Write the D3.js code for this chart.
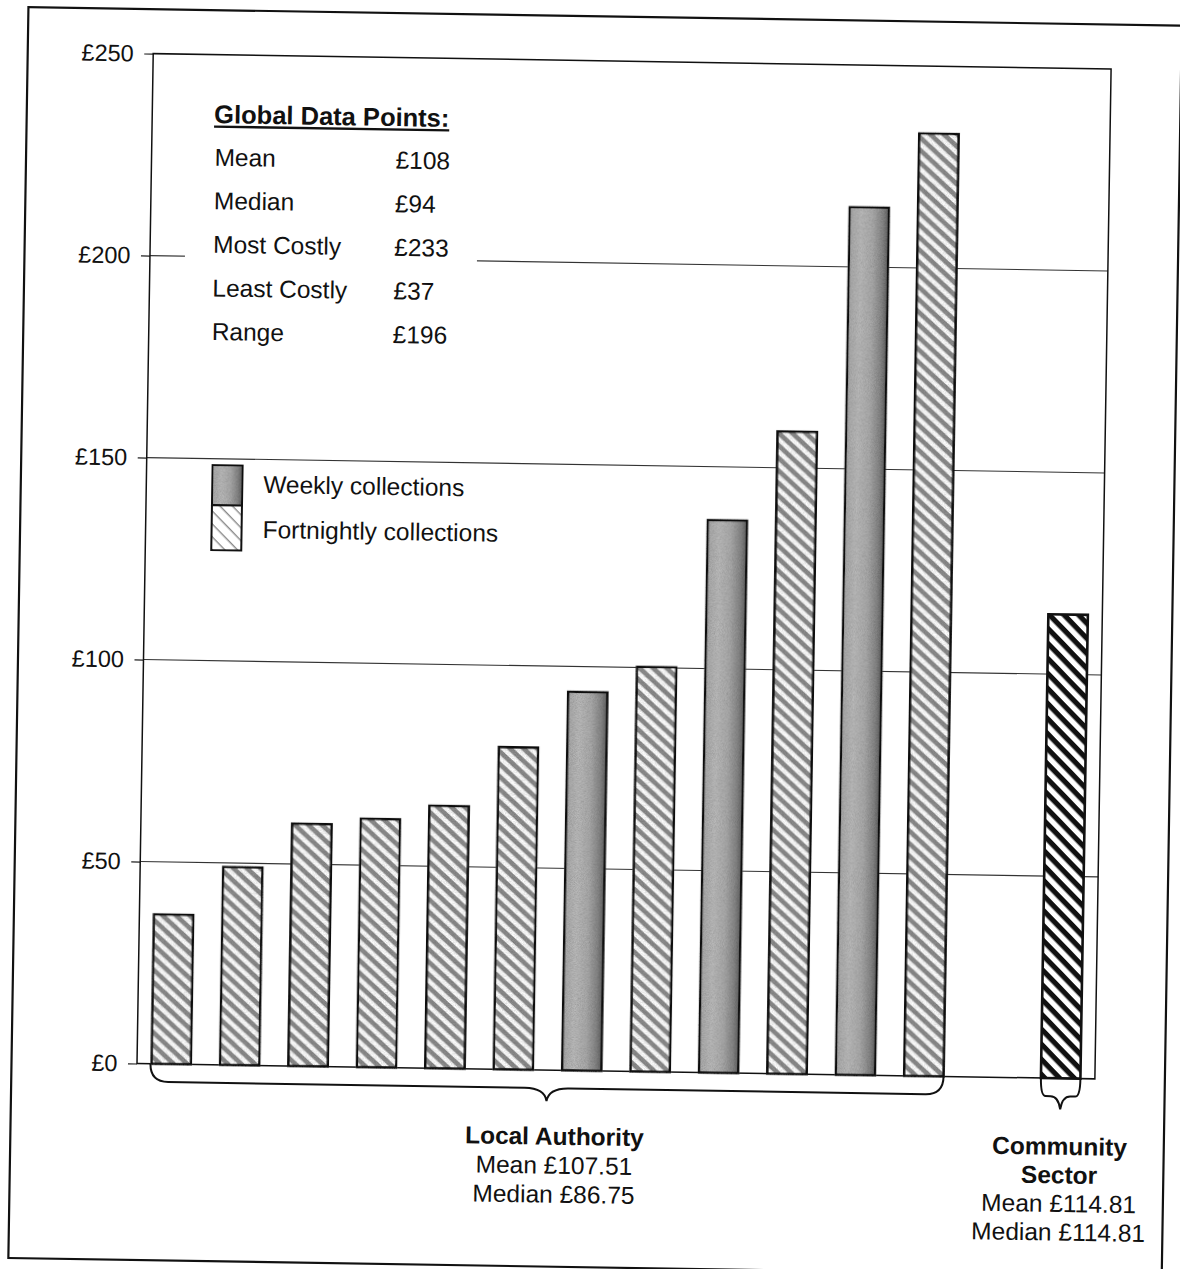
<!DOCTYPE html>
<html>
<head>
<meta charset="utf-8">
<script src="https://cdn.jsdelivr.net/npm/d3@7"></script>
<style>
  html, body { margin: 0; padding: 0; background: #fff; }
  svg { display: block; }
  text { font-family: "Liberation Sans", Arial, Helvetica, sans-serif; fill: #111; }
</style>
</head>
<body>
<svg id="chart" width="1180" height="1269"></svg>
<script>
// Annual cost per household of kerbside collection, in pounds
const authorityNames = ["LA 1", "LA 2", "LA 3", "LA 4", "LA 5", "LA 6",
                        "LA 7", "LA 8", "LA 9", "LA 10", "LA 11", "LA 12"];
const authorityCosts = [37, 49, 60, 61.5, 65, 79.75, 93.75, 100.2, 136.8, 159, 214.8, 233.32];
const authorityFrequency = ["Fortnightly", "Fortnightly", "Fortnightly", "Fortnightly",
                            "Fortnightly", "Fortnightly", "Weekly", "Fortnightly",
                            "Weekly", "Fortnightly", "Weekly", "Fortnightly"];
const communityNames = ["Community Sector"];
const communityCosts = [114.81];
const spacerSlot = ["(gap)"];
const yTickValues = [0, 50, 100, 150, 200, 250];
const statLabels = ["Mean", "Median", "Most Costly", "Least Costly", "Range"];
const legendLabels = ["Weekly collections", "Fortnightly collections"];

const svg = d3.select("#chart");
const plot = { left: 137, right: 1095, top: 53.5, bottom: 1063.5 };
const tilt = 0.92; // the printed page sits slightly askew

// ---- fills -------------------------------------------------------------
const defs = svg.append("defs");

const grad = defs.append("linearGradient").attr("id", "weeklyFill")
  .attr("x1", "0%").attr("x2", "100%").attr("y1", "0%").attr("y2", "0%");
[[0, "#a8a8a8"], [0.3, "#bababa"], [0.6, "#aaaaaa"], [0.85, "#868686"], [1, "#606060"]]
  .forEach(([o, c]) => grad.append("stop").attr("offset", o).attr("stop-color", c));

function hatch(id, period, band, colour, angle) {
  const p = defs.append("pattern").attr("id", id)
    .attr("patternUnits", "userSpaceOnUse")
    .attr("width", 10).attr("height", period)
    .attr("patternTransform", `rotate(${angle})`);
  p.append("rect").attr("width", 10).attr("height", period).attr("fill", "#fff");
  p.append("rect").attr("width", 10).attr("height", band).attr("fill", colour);
}
hatch("fortnightHatch", 9.2, 4.8, "#8c8c8c", 42);
hatch("communityHatch", 10.5, 5.2, "#111", 45);
hatch("legendHatch", 9, 1.4, "#8a8a8a", 45);

// halftone-like grain for the printed grey fills
const grain = defs.append("filter").attr("id", "grain")
  .attr("x", "-5%").attr("y", "-1%").attr("width", "110%").attr("height", "102%");
grain.append("feTurbulence").attr("type", "fractalNoise").attr("baseFrequency", 1.3)
  .attr("numOctaves", 1).attr("seed", 7).attr("result", "noise");
grain.append("feColorMatrix").attr("in", "noise").attr("type", "matrix")
  .attr("values", "0 0 0 0 0.55  0 0 0 0 0.55  0 0 0 0 0.55  1.4 0 0 0 -0.45")
  .attr("result", "speck");
grain.append("feBlend").attr("in", "SourceGraphic").attr("in2", "speck")
  .attr("mode", "multiply").attr("result", "mixed");
grain.append("feComposite").attr("in", "mixed").attr("in2", "SourceGraphic")
  .attr("operator", "in");

// ---- scales ------------------------------------------------------------
const slots = [...authorityNames, ...spacerSlot, ...communityNames];
const x = d3.scaleBand().domain(slots).range([plot.left, plot.right])
  .paddingInner(0.423).paddingOuter(0.2115);
const y = d3.scaleLinear().domain([0, 250]).range([plot.bottom, plot.top]);

const root = svg.append("g")
  .attr("transform", `rotate(${tilt} ${plot.left} ${plot.bottom})`);

// page frame
root.append("rect")
  .attr("x", 11.5).attr("y", 9).attr("width", 1153.5).attr("height", 1251)
  .attr("fill", "none").attr("stroke", "#111").attr("stroke-width", 2.2);

// gridlines
root.append("g").selectAll("line")
  .data(yTickValues.filter(v => v > 0 && v < 250))
  .join("line")
  .attr("x1", plot.left).attr("x2", plot.right)
  .attr("y1", d => y(d)).attr("y2", d => y(d))
  .attr("stroke", "#333").attr("stroke-width", 1.1);

// y axis with pound labels
const yAxis = root.append("g").attr("transform", `translate(${plot.left},0)`)
  .call(d3.axisLeft(y).tickValues(yTickValues).tickSize(9).tickPadding(10.5)
    .tickFormat(d => "£" + d));
yAxis.select(".domain").remove();
yAxis.selectAll(".tick line").attr("stroke", "#222").attr("stroke-width", 1.2);
yAxis.selectAll(".tick text").attr("font-size", 23.5).attr("fill", "#111")
  .attr("font-family", "\"Liberation Sans\", Arial, sans-serif");

// plot border
root.append("rect")
  .attr("x", plot.left).attr("y", plot.top)
  .attr("width", plot.right - plot.left).attr("height", plot.bottom - plot.top)
  .attr("fill", "none").attr("stroke", "#111").attr("stroke-width", 1.5);

// ---- summary box -------------------------------------------------------
const fmt0 = d3.format(".0f");
const allCosts = [...authorityCosts, ...communityCosts];
const statValues = [
  d3.mean(allCosts), d3.median(allCosts), d3.max(allCosts), d3.min(allCosts),
  d3.max(allCosts) - d3.min(allCosts)
].map(v => "£" + fmt0(v));

root.append("rect").attr("x", 172).attr("y", 88).attr("width", 292).attr("height", 268)
  .attr("fill", "#fff");

const title = root.append("text").attr("x", 199).attr("y", 122)
  .attr("font-size", 25.5).attr("font-weight", "bold").text("Global Data Points:");
const titleLen = title.node().getComputedTextLength();
root.append("line").attr("x1", 199).attr("x2", 199 + titleLen)
  .attr("y1", 125.5).attr("y2", 125.5).attr("stroke", "#111").attr("stroke-width", 2.4);

const statRows = root.append("g").selectAll("g")
  .data(statLabels.map((l, i) => ({ label: l, value: statValues[i] })))
  .join("g")
  .attr("transform", (d, i) => `translate(0,${164.5 + i * 43.6})`);
statRows.append("text").attr("x", 200).attr("font-size", 24.5).text(d => d.label);
statRows.append("text").attr("x", 381).attr("font-size", 24.5).text(d => d.value);

// ---- legend ------------------------------------------------------------
const legendFills = ["url(#weeklyFill)", "url(#legendHatch)"];
const swatchY = [464, 504];
const swatchH = [40, 45];
legendLabels.forEach((label, i) => {
  root.append("rect").attr("x", 203).attr("y", swatchY[i])
    .attr("width", 30).attr("height", swatchH[i])
    .attr("fill", legendFills[i]).attr("stroke", "#111").attr("stroke-width", 2)
    .attr("filter", i === 0 ? "url(#grain)" : null);
  root.append("text").attr("x", 254).attr("y", [491, 536][i])
    .attr("font-size", 24.5).text(label);
});

// ---- bars --------------------------------------------------------------
const authorityData = authorityNames.map((n, i) => ({
  name: n, cost: authorityCosts[i], freq: authorityFrequency[i]
}));
root.append("g").selectAll("rect")
  .data(authorityData)
  .join("rect")
  .attr("x", d => x(d.name)).attr("width", x.bandwidth())
  .attr("y", d => y(d.cost)).attr("height", d => y(0) - y(d.cost))
  .attr("fill", d => d.freq === "Weekly" ? "url(#weeklyFill)" : "url(#fortnightHatch)")
  .attr("stroke", "#111").attr("stroke-width", 2.6)
  .attr("filter", "url(#grain)");

const communityData = communityNames.map((n, i) => ({ name: n, cost: communityCosts[i] }));
root.append("g").selectAll("rect")
  .data(communityData)
  .join("rect")
  .attr("x", d => x(d.name)).attr("width", x.bandwidth())
  .attr("y", d => y(d.cost)).attr("height", d => y(0) - y(d.cost))
  .attr("fill", "url(#communityHatch)")
  .attr("stroke", "#111").attr("stroke-width", 2.6);

// ---- group braces ------------------------------------------------------
function brace(x0, x1, r) {
  const y0 = y(0), y1 = y0 + 18, y2 = y0 + 31, mid = (x0 + x1) / 2;
  const c = Math.min(22, (x1 - x0) / 4);
  return `M${x0},${y0} Q${x0},${y1} ${x0 + r},${y1} L${mid - c},${y1}` +
         ` Q${mid - 2},${y1} ${mid},${y2} Q${mid + 2},${y1} ${mid + c},${y1}` +
         ` L${x1 - r},${y1} Q${x1},${y1} ${x1},${y0}`;
}
const laX0 = x(authorityNames[0]);
const laX1 = x(authorityNames[authorityNames.length - 1]) + x.bandwidth();
const csX0 = x(communityNames[0]);
const csX1 = csX0 + x.bandwidth();
root.append("path").attr("d", brace(laX0 - 1, laX1, 18))
  .attr("fill", "none").attr("stroke", "#111").attr("stroke-width", 2);
root.append("path").attr("d", brace(csX0, csX1, 5))
  .attr("fill", "none").attr("stroke", "#111").attr("stroke-width", 2);

// ---- group captions ----------------------------------------------------
const fmt2 = d3.format(".2f");
const laCaption = [
  { t: "Local Authority", bold: true },
  { t: "Mean £" + fmt2(d3.mean(authorityCosts)) },
  { t: "Median £" + fmt2(d3.median(authorityCosts)) }
];
const csCaption = [
  { t: "Community", bold: true },
  { t: "Sector", bold: true },
  { t: "Mean £" + fmt2(d3.mean(communityCosts)) },
  { t: "Median £" + fmt2(d3.median(communityCosts)) }
];
root.append("g").selectAll("text").data(laCaption).join("text")
  .attr("x", (laX0 + laX1) / 2 + 8).attr("y", (d, i) => 1138 + i * 29)
  .attr("text-anchor", "middle").attr("font-size", 24.5)
  .attr("font-weight", d => d.bold ? "bold" : "normal").text(d => d.t);
root.append("g").selectAll("text").data(csCaption).join("text")
  .attr("x", (csX0 + csX1) / 2).attr("y", (d, i) => 1140 + i * 28.6)
  .attr("text-anchor", "middle").attr("font-size", 24.5)
  .attr("font-weight", d => d.bold ? "bold" : "normal").text(d => d.t);
</script>
</body>
</html>
